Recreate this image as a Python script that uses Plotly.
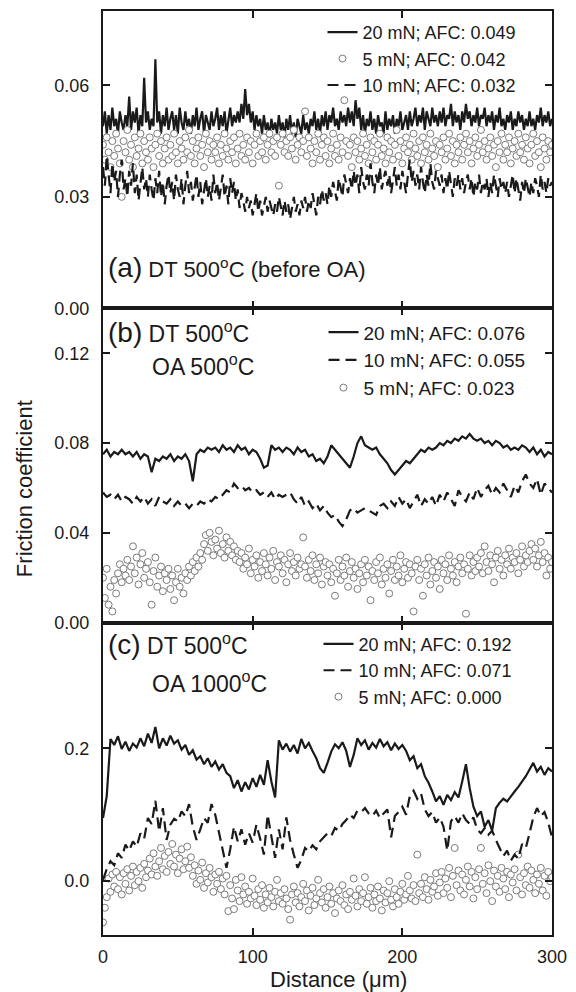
import plotly.graph_objects as go

# Friction coefficient traces recorded along a 300 µm scratch track.
FINE_STEP = 1.25      # µm between samples of the dense traces
LINE_STEP = 2.5       # µm between samples of the panel (b)/(c) lines

# ---- (a) DT 500 °C, before OA ----
a_20mN = [
    0.049, 0.053, 0.047, 0.052, 0.048, 0.054, 0.049, 0.051, 0.047, 0.053, 0.050, 0.048,
    0.052, 0.049, 0.057, 0.048, 0.053, 0.050, 0.054, 0.047, 0.052, 0.049, 0.062, 0.050,
    0.053, 0.048, 0.051, 0.049, 0.067, 0.050, 0.053, 0.047, 0.052, 0.049, 0.054, 0.048,
    0.051, 0.053, 0.048, 0.052, 0.047, 0.054, 0.050, 0.048, 0.053, 0.049, 0.051, 0.047,
    0.052, 0.049, 0.054, 0.048, 0.051, 0.053, 0.047, 0.052, 0.050, 0.048, 0.053, 0.049,
    0.051, 0.054, 0.048, 0.052, 0.049, 0.053, 0.047, 0.051, 0.054, 0.049, 0.052, 0.050,
    0.053, 0.050, 0.055, 0.051, 0.059, 0.052, 0.055, 0.050, 0.053, 0.048, 0.052, 0.049,
    0.051, 0.047, 0.052, 0.048, 0.050, 0.046, 0.051, 0.048, 0.050, 0.047, 0.052, 0.048,
    0.050, 0.046, 0.051, 0.048, 0.052, 0.047, 0.050, 0.046, 0.051, 0.049, 0.047, 0.052,
    0.048, 0.050, 0.047, 0.051, 0.049, 0.053, 0.048, 0.051, 0.047, 0.052, 0.049, 0.053,
    0.048, 0.052, 0.050, 0.054, 0.049, 0.051, 0.048, 0.053, 0.050, 0.052, 0.049, 0.054,
    0.050, 0.053, 0.049, 0.056, 0.051, 0.054, 0.048, 0.052, 0.047, 0.051, 0.049, 0.053,
    0.048, 0.051, 0.047, 0.052, 0.049, 0.050, 0.047, 0.053, 0.048, 0.051, 0.049, 0.052,
    0.047, 0.051, 0.049, 0.053, 0.048, 0.050, 0.052, 0.048, 0.053, 0.049, 0.051, 0.054,
    0.049, 0.052, 0.050, 0.054, 0.048, 0.053, 0.051, 0.049, 0.054, 0.050, 0.052, 0.049,
    0.053, 0.050, 0.054, 0.049, 0.052, 0.051, 0.055, 0.049, 0.053, 0.050, 0.052, 0.048,
    0.053, 0.050, 0.055, 0.051, 0.053, 0.049, 0.052, 0.050, 0.054, 0.049, 0.052, 0.051,
    0.054, 0.049, 0.052, 0.050, 0.053, 0.048, 0.052, 0.050, 0.054, 0.049, 0.051, 0.048,
    0.052, 0.050, 0.053, 0.048, 0.051, 0.049, 0.053, 0.050, 0.052, 0.048, 0.051, 0.049,
    0.053, 0.049, 0.051, 0.048, 0.052, 0.050, 0.054, 0.049, 0.052, 0.050, 0.053, 0.049,
    0.051,
]
a_10mN = [
    0.038, 0.033, 0.041, 0.035, 0.031, 0.039, 0.034, 0.037, 0.030, 0.036, 0.040, 0.032,
    0.035, 0.030, 0.037, 0.033, 0.039, 0.031, 0.036, 0.029, 0.034, 0.038, 0.032, 0.035,
    0.030, 0.036, 0.032, 0.029, 0.035, 0.031, 0.037, 0.030, 0.034, 0.028, 0.033, 0.036,
    0.031, 0.034, 0.029, 0.036, 0.032, 0.030, 0.035, 0.028, 0.033, 0.037, 0.031, 0.034,
    0.029, 0.033, 0.036, 0.030, 0.034, 0.028, 0.032, 0.035, 0.030, 0.033, 0.029, 0.036,
    0.031, 0.034, 0.029, 0.032, 0.036, 0.030, 0.033, 0.028, 0.035, 0.031, 0.034, 0.029,
    0.032, 0.027, 0.031, 0.029, 0.026, 0.030, 0.027, 0.029, 0.025, 0.028, 0.031, 0.026,
    0.029, 0.025, 0.028, 0.030, 0.026, 0.029, 0.027, 0.025, 0.028, 0.026, 0.030, 0.027,
    0.025, 0.029, 0.026, 0.028, 0.024, 0.027, 0.030, 0.026, 0.028, 0.025, 0.029, 0.027,
    0.030, 0.026, 0.029, 0.027, 0.031, 0.028, 0.025, 0.030, 0.028, 0.032, 0.029, 0.031,
    0.028, 0.033, 0.030, 0.034, 0.031, 0.029, 0.035, 0.032, 0.030, 0.036, 0.033, 0.031,
    0.035, 0.032, 0.037, 0.033, 0.036, 0.031, 0.038, 0.034, 0.032, 0.036, 0.033, 0.039,
    0.034, 0.031, 0.036, 0.033, 0.038, 0.032, 0.035, 0.037, 0.033, 0.036, 0.031, 0.035,
    0.038, 0.033, 0.036, 0.032, 0.037, 0.034, 0.031, 0.036, 0.040, 0.034, 0.037, 0.033,
    0.036, 0.032, 0.038, 0.034, 0.031, 0.036, 0.033, 0.039, 0.034, 0.032, 0.037, 0.035,
    0.033, 0.036, 0.031, 0.035, 0.032, 0.037, 0.034, 0.030, 0.035, 0.033, 0.036, 0.032,
    0.035, 0.031, 0.034, 0.036, 0.032, 0.035, 0.030, 0.034, 0.032, 0.036, 0.031, 0.034,
    0.032, 0.035, 0.030, 0.034, 0.031, 0.036, 0.033, 0.030, 0.035, 0.032, 0.034, 0.031,
    0.034, 0.030, 0.033, 0.036, 0.031, 0.035, 0.032, 0.029, 0.034, 0.031, 0.035, 0.032,
    0.030, 0.034, 0.031, 0.035, 0.033, 0.030, 0.036, 0.032, 0.034, 0.031, 0.035, 0.033,
    0.034,
]
a_5mN = [
    0.044, 0.040, 0.046, 0.042, 0.038, 0.045, 0.041, 0.047, 0.043, 0.039, 0.030, 0.045,
    0.042, 0.048, 0.040, 0.044, 0.038, 0.046, 0.041, 0.043, 0.047, 0.039, 0.045, 0.042,
    0.040, 0.046, 0.043, 0.038, 0.044, 0.047, 0.041, 0.045, 0.039, 0.043, 0.046, 0.040,
    0.044, 0.041, 0.047, 0.042, 0.039, 0.045, 0.043, 0.040, 0.046, 0.042, 0.048, 0.041,
    0.045, 0.039, 0.043, 0.046, 0.041, 0.044, 0.038, 0.047, 0.042, 0.045, 0.040, 0.044,
    0.042, 0.046, 0.039, 0.044, 0.041, 0.047, 0.043, 0.040, 0.045, 0.042, 0.046, 0.039,
    0.043, 0.047, 0.041, 0.044, 0.040, 0.046, 0.042, 0.045, 0.039, 0.044, 0.047, 0.041,
    0.045, 0.042, 0.046, 0.040, 0.044, 0.047, 0.042, 0.045, 0.041, 0.046, 0.033, 0.044,
    0.047, 0.042, 0.045, 0.041, 0.046, 0.043, 0.048, 0.040, 0.044, 0.046, 0.042, 0.045,
    0.053, 0.041, 0.046, 0.043, 0.039, 0.045, 0.042, 0.047, 0.040, 0.044, 0.046, 0.041,
    0.045, 0.039, 0.043, 0.047, 0.041, 0.044, 0.040, 0.046, 0.042, 0.056, 0.045, 0.041,
    0.044, 0.038, 0.046, 0.042, 0.045, 0.040, 0.043, 0.047, 0.041, 0.044, 0.039, 0.046,
    0.042, 0.045, 0.040, 0.044, 0.047, 0.041, 0.043, 0.039, 0.046, 0.042, 0.045, 0.040,
    0.044, 0.048, 0.041, 0.045, 0.039, 0.043, 0.046, 0.042, 0.044, 0.040, 0.047, 0.043,
    0.041, 0.045, 0.039, 0.046, 0.042, 0.044, 0.040, 0.047, 0.043, 0.041, 0.045, 0.038,
    0.044, 0.042, 0.046, 0.040, 0.043, 0.047, 0.041, 0.045, 0.039, 0.044, 0.042, 0.046,
    0.040, 0.044, 0.047, 0.042, 0.045, 0.039, 0.043, 0.046, 0.041, 0.044, 0.048, 0.042,
    0.045, 0.040, 0.043, 0.046, 0.041, 0.044, 0.038, 0.045, 0.042, 0.047, 0.040, 0.044,
    0.042, 0.046, 0.039, 0.043, 0.045, 0.041, 0.047, 0.042, 0.044, 0.040, 0.046, 0.043,
    0.039, 0.044, 0.047, 0.041, 0.045, 0.042, 0.038, 0.046, 0.043, 0.040, 0.045, 0.042,
    0.044,
]

# ---- (b) DT 500 °C, OA 500 °C ----
b_20mN = [
    0.075, 0.077, 0.074, 0.076, 0.075, 0.077, 0.075, 0.076, 0.074, 0.076,
    0.073, 0.075, 0.074, 0.067, 0.073, 0.072, 0.074, 0.073, 0.075, 0.072,
    0.074, 0.073, 0.075, 0.072, 0.063, 0.075, 0.077, 0.076, 0.078, 0.077,
    0.078, 0.076, 0.079, 0.077, 0.078, 0.076, 0.079, 0.077, 0.078, 0.075,
    0.077, 0.076, 0.073, 0.069, 0.070, 0.079, 0.077, 0.078, 0.076, 0.078,
    0.077, 0.075, 0.078, 0.076, 0.077, 0.074, 0.075, 0.072, 0.073, 0.071,
    0.074, 0.079, 0.077, 0.075, 0.073, 0.071, 0.069, 0.074, 0.080, 0.083,
    0.079, 0.078, 0.077, 0.078, 0.075, 0.073, 0.071, 0.068, 0.066, 0.068,
    0.070, 0.072, 0.071, 0.073, 0.075, 0.077, 0.076, 0.078, 0.077, 0.078,
    0.080, 0.079, 0.081, 0.080, 0.082, 0.081, 0.083, 0.082, 0.084, 0.082,
    0.081, 0.082, 0.080, 0.081, 0.079, 0.081, 0.080, 0.078, 0.079, 0.077,
    0.078, 0.077, 0.079, 0.078, 0.076, 0.078, 0.075, 0.077, 0.074, 0.076, 0.075,
]
b_10mN = [
    0.058, 0.056, 0.057, 0.055, 0.057, 0.054, 0.056, 0.055, 0.053, 0.056,
    0.054, 0.056, 0.053, 0.055, 0.052, 0.056, 0.054, 0.053, 0.055, 0.052,
    0.054, 0.052, 0.053, 0.051, 0.053, 0.052, 0.054, 0.053, 0.055, 0.054,
    0.056, 0.055, 0.057, 0.059, 0.058, 0.062, 0.060, 0.061, 0.059, 0.060,
    0.058, 0.059, 0.057, 0.058, 0.056, 0.058, 0.055, 0.057, 0.056, 0.057,
    0.058, 0.055, 0.053, 0.056, 0.052, 0.054, 0.051, 0.053, 0.050, 0.052,
    0.049, 0.047, 0.048, 0.045, 0.043, 0.046, 0.050, 0.051, 0.049, 0.050,
    0.051, 0.050, 0.049, 0.048, 0.052, 0.053, 0.051, 0.054, 0.052, 0.056,
    0.053, 0.055, 0.051, 0.054, 0.057, 0.052, 0.055, 0.053, 0.056, 0.052,
    0.057, 0.054, 0.058, 0.055, 0.052, 0.059, 0.056, 0.054, 0.058, 0.055,
    0.060, 0.056, 0.059, 0.061, 0.057, 0.060, 0.058, 0.062, 0.059, 0.056,
    0.061, 0.058, 0.063, 0.066, 0.062, 0.060, 0.064, 0.057, 0.062, 0.060, 0.058,
]
b_5mN = [
    0.020, 0.011, 0.024, 0.008, 0.016, 0.005, 0.019, 0.013, 0.022, 0.026, 0.018, 0.024,
    0.021, 0.028, 0.019, 0.025, 0.034, 0.022, 0.029, 0.017, 0.026, 0.031, 0.020, 0.024,
    0.027, 0.018, 0.008, 0.023, 0.029, 0.016, 0.021, 0.025, 0.014, 0.022, 0.019, 0.024,
    0.015, 0.021, 0.010, 0.018, 0.024, 0.016, 0.020, 0.013, 0.022, 0.019, 0.025, 0.021,
    0.027, 0.023, 0.029, 0.025, 0.031, 0.028, 0.035, 0.039, 0.032, 0.040, 0.036, 0.030,
    0.037, 0.033, 0.041, 0.031, 0.035, 0.029, 0.038, 0.032, 0.036, 0.030, 0.034, 0.028,
    0.032, 0.027, 0.031, 0.024, 0.029, 0.026, 0.033, 0.022, 0.028, 0.025, 0.030, 0.020,
    0.027, 0.023, 0.031, 0.026, 0.021, 0.029, 0.024, 0.032, 0.019, 0.027, 0.025, 0.030,
    0.022, 0.028, 0.018, 0.026, 0.031, 0.023, 0.027, 0.021, 0.029, 0.024, 0.026, 0.038,
    0.025, 0.020, 0.028, 0.023, 0.030, 0.019, 0.026, 0.022, 0.029, 0.017, 0.025, 0.027,
    0.021, 0.026, 0.018, 0.024, 0.012, 0.022, 0.028, 0.019, 0.025, 0.021, 0.029, 0.016,
    0.023, 0.027, 0.020, 0.024, 0.015, 0.022, 0.026, 0.018, 0.028, 0.021, 0.025, 0.010,
    0.023, 0.019, 0.027, 0.022, 0.029, 0.017, 0.024, 0.020, 0.026, 0.013, 0.023, 0.028,
    0.019, 0.025, 0.021, 0.030, 0.018, 0.024, 0.027, 0.020, 0.026, 0.022, 0.005, 0.025,
    0.028, 0.019, 0.024, 0.012, 0.026, 0.021, 0.029, 0.017, 0.023, 0.027, 0.020, 0.025,
    0.015, 0.028, 0.022, 0.026, 0.019, 0.030, 0.024, 0.021, 0.027, 0.018, 0.025, 0.029,
    0.022, 0.026, 0.004, 0.024, 0.030, 0.021, 0.027, 0.023, 0.029, 0.025, 0.031, 0.022,
    0.034, 0.027, 0.023, 0.030, 0.026, 0.018, 0.029, 0.032, 0.024, 0.028, 0.021, 0.030,
    0.026, 0.033, 0.024, 0.029, 0.027, 0.031, 0.022, 0.028, 0.034, 0.025, 0.030, 0.027,
    0.032, 0.035, 0.028, 0.033, 0.025, 0.030, 0.036, 0.027, 0.031, 0.021, 0.029, 0.024,
    0.027,
]

# ---- (c) DT 500 °C, OA 1000 °C ----
c_20mN = [
    0.095, 0.128, 0.214, 0.205, 0.218, 0.199, 0.210, 0.196, 0.207, 0.201,
    0.215, 0.203, 0.222, 0.208, 0.232, 0.200, 0.215, 0.204, 0.219, 0.207,
    0.212, 0.198, 0.205, 0.190, 0.197, 0.183, 0.188, 0.176, 0.185, 0.172,
    0.180, 0.168, 0.176, 0.163, 0.158, 0.140, 0.152, 0.135, 0.149, 0.138,
    0.155, 0.142, 0.160, 0.145, 0.182, 0.150, 0.126, 0.212, 0.198, 0.207,
    0.195, 0.205, 0.192, 0.214, 0.200, 0.208, 0.196, 0.185, 0.170, 0.163,
    0.178, 0.195, 0.206, 0.200, 0.209, 0.196, 0.172, 0.190, 0.215, 0.205,
    0.212, 0.198, 0.208, 0.201, 0.214, 0.203, 0.209, 0.197, 0.207, 0.199,
    0.205, 0.196, 0.182, 0.188, 0.170, 0.176, 0.158, 0.148, 0.135, 0.120,
    0.128, 0.115, 0.130, 0.122, 0.134, 0.126, 0.150, 0.176, 0.140, 0.112,
    0.098, 0.105, 0.082, 0.092, 0.076, 0.110, 0.118, 0.124, 0.120, 0.128,
    0.135, 0.142, 0.150, 0.158, 0.168, 0.178, 0.165, 0.172, 0.160, 0.170, 0.165,
]
c_10mN = [
    0.002, 0.018, 0.030, 0.024, 0.042, 0.035, 0.055, 0.046, 0.060, 0.052,
    0.072, 0.064, 0.095, 0.086, 0.121, 0.075, 0.110, 0.062, 0.085, 0.094,
    0.090, 0.105, 0.098, 0.116, 0.082, 0.062, 0.078, 0.095, 0.088, 0.116,
    0.100, 0.072, 0.046, 0.020, 0.048, 0.082, 0.060, 0.078, 0.055, 0.072,
    0.058, 0.085, 0.064, 0.040, 0.100, 0.070, 0.035, 0.078, 0.048, 0.096,
    0.062, 0.040, 0.020, 0.032, 0.050, 0.045, 0.054, 0.048, 0.060, 0.066,
    0.072, 0.068, 0.080, 0.076, 0.086, 0.092, 0.100, 0.095, 0.106, 0.104,
    0.110, 0.102, 0.098, 0.106, 0.095, 0.102, 0.108, 0.066, 0.098, 0.104,
    0.112, 0.100, 0.128, 0.136, 0.124, 0.132, 0.108, 0.098, 0.104, 0.088,
    0.096, 0.082, 0.046, 0.090, 0.098, 0.088, 0.102, 0.092, 0.086, 0.096,
    0.078, 0.072, 0.080, 0.070, 0.076, 0.062, 0.050, 0.038, 0.046, 0.031,
    0.040, 0.034, 0.056, 0.050, 0.072, 0.096, 0.110, 0.098, 0.104, 0.088, 0.066,
]
c_5mN = [
    -0.062, -0.040, -0.024, 0.004, -0.016, 0.010, -0.008, 0.014, -0.012, 0.006, -0.020, 0.012,
    -0.004, 0.018, -0.014, 0.008, 0.022, -0.006, 0.014, 0.000, 0.020, -0.010, 0.026, 0.006,
    0.016, 0.034, 0.010, 0.042, 0.022, 0.008, 0.030, 0.050, 0.018, 0.038, 0.014, 0.044,
    0.026, 0.056, 0.022, 0.040, 0.012, 0.034, 0.048, 0.018, 0.030, 0.052, 0.020, 0.036,
    0.008, 0.024, -0.004, 0.016, 0.002, 0.028, -0.010, 0.012, -0.002, 0.020, 0.006, -0.016,
    0.010, -0.004, 0.014, -0.012, 0.004, -0.020, 0.008, -0.045, -0.006, -0.026, -0.042, 0.002,
    -0.014, -0.030, 0.006, -0.020, -0.008, -0.034, -0.016, -0.026, 0.004, -0.022, -0.036, -0.012,
    -0.028, -0.006, -0.040, -0.020, -0.032, -0.010, -0.024, -0.038, -0.016, 0.002, -0.030, -0.018,
    -0.034, -0.012, -0.026, -0.042, -0.058, -0.020, -0.008, -0.032, -0.018, -0.038, -0.024, -0.004,
    -0.030, -0.014, -0.044, -0.022, -0.010, -0.036, -0.026, 0.002, -0.018, -0.032, -0.012, -0.040,
    -0.024, -0.008, -0.034, -0.018, -0.048, -0.026, -0.014, -0.030, -0.006, -0.036, -0.020, -0.042,
    -0.016, -0.028, 0.004, -0.022, -0.038, -0.012, -0.030, -0.018, 0.006, -0.034, -0.024, -0.010,
    -0.040, -0.020, -0.030, -0.008, -0.026, -0.044, -0.014, -0.032, -0.018, 0.000, -0.028, -0.038,
    -0.012, -0.024, -0.034, -0.016, -0.004, -0.028, -0.020, 0.008, -0.014, -0.026, -0.006, -0.030,
    0.040, -0.018, -0.004, -0.024, 0.006, -0.012, -0.028, 0.002, -0.016, -0.008, 0.012, -0.022,
    -0.002, 0.014, -0.018, 0.004, -0.010, 0.020, -0.024, 0.008, 0.050, -0.006, 0.016, -0.014,
    0.010, -0.020, 0.002, 0.022, -0.008, 0.014, -0.026, 0.006, -0.012, 0.018, 0.050, -0.004,
    0.012, -0.018, 0.024, 0.000, -0.030, 0.016, -0.008, 0.008, -0.016, 0.020, 0.004, -0.012,
    0.014, -0.024, 0.010, -0.002, 0.018, -0.014, 0.040, 0.006, -0.020, 0.012, -0.006, 0.022,
    -0.010, 0.016, 0.002, -0.018, 0.010, -0.004, 0.020, -0.014, 0.008, -0.022, 0.014, 0.000,
    0.006,
]

AFC = {
    "a": {"20": "0.049", "5": "0.042", "10": "0.032"},
    "b": {"20": "0.076", "10": "0.055", "5": "0.023"},
    "c": {"20": "0.192", "10": "0.071", "5": "0.000"},
}

FONT = "Liberation Sans, Arial, Helvetica, sans-serif"
INK = "#1a1a1a"
DOT_EDGE = "#7a7a7a"

# pixel layout of the three stacked panels
W, H = 576, 992
L, R, T, B = 103, 23, 9, 57
PLOT_H = H - T - B
PANEL_BOTTOMS = {"a": 307, "b": 622, "c": 935}
PANEL_TOPS = {"a": 9, "b": 307, "c": 622}


def px_x(p):
    return (p - L) / (W - L - R)


def px_y(p):
    return (H - B - p) / PLOT_H


def dist(values, step):
    return [i * step for i in range(len(values))]


fig = go.Figure()


def solid(vals, step, name, panel, legend, rank):
    fig.add_trace(go.Scatter(
        x=dist(vals, step), y=vals, mode="lines", name=name,
        line=dict(color=INK, width=2.2), xaxis=panel[0], yaxis=panel[1],
        legend=legend, legendgroup=legend + name, legendrank=rank))


def dashed(vals, step, name, panel, legend, rank):
    fig.add_trace(go.Scatter(
        x=dist(vals, step), y=vals, mode="lines", name=name,
        line=dict(color=INK, width=2.2, dash="11px,6px"),
        xaxis=panel[0], yaxis=panel[1],
        legend=legend, legendgroup=legend + name, legendrank=rank))


def dots(vals, step, name, panel, legend, rank):
    fig.add_trace(go.Scatter(
        x=dist(vals, step), y=vals, mode="markers", name=name,
        marker=dict(symbol="circle", size=7, color="white",
                    line=dict(color=DOT_EDGE, width=1)),
        xaxis=panel[0], yaxis=panel[1],
        legend=legend, legendgroup=legend + name, legendrank=rank))


pa, pb, pc = ("x", "y"), ("x2", "y2"), ("x3", "y3")

solid(a_20mN, FINE_STEP, f"20 mN; AFC: {AFC['a']['20']}", pa, "legend", 1)
dots(a_5mN, FINE_STEP, f"5 mN; AFC: {AFC['a']['5']}", pa, "legend", 2)
dashed(a_10mN, FINE_STEP, f"10 mN; AFC: {AFC['a']['10']}", pa, "legend", 3)

dots(b_5mN, FINE_STEP, f"5 mN; AFC: {AFC['b']['5']}", pb, "legend2", 3)
solid(b_20mN, LINE_STEP, f"20 mN; AFC: {AFC['b']['20']}", pb, "legend2", 1)
dashed(b_10mN, LINE_STEP, f"10 mN; AFC: {AFC['b']['10']}", pb, "legend2", 2)

dots(c_5mN, FINE_STEP, f"5 mN; AFC: {AFC['c']['5']}", pc, "legend3", 3)
solid(c_20mN, LINE_STEP, f"20 mN; AFC: {AFC['c']['20']}", pc, "legend3", 1)
dashed(c_10mN, LINE_STEP, f"10 mN; AFC: {AFC['c']['10']}", pc, "legend3", 2)

axis_common = dict(
    showline=True, linewidth=2, linecolor=INK, mirror="ticks",
    ticks="inside", ticklen=7, tickwidth=1.5, tickcolor=INK,
    showgrid=False, zeroline=False,
    tickfont=dict(family=FONT, size=18, color=INK),
)

x_common = dict(axis_common, range=[0, 300], tick0=0, dtick=100,
                domain=[0, 1])

y_specs = {
    "a": dict(range=[0, 0.08], dtick=0.03, tickformat=".2f"),
    "b": dict(range=[0, 0.14], dtick=0.04, tickformat=".2f"),
    "c": dict(range=[-0.081, 0.389], dtick=0.2, tickformat=".1f"),
}


def dom(k):
    return [px_y(PANEL_BOTTOMS[k]), px_y(PANEL_TOPS[k])]


fig.update_layout(
    xaxis=dict(x_common, anchor="y", showticklabels=False),
    xaxis2=dict(x_common, anchor="y2", showticklabels=False),
    xaxis3=dict(x_common, anchor="y3", showticklabels=True,
                ticklabelstandoff=4),
    yaxis=dict(axis_common, **y_specs["a"], tick0=0, domain=dom("a"),
               anchor="x", ticklabelstandoff=8),
    yaxis2=dict(axis_common, **y_specs["b"], tick0=0, domain=dom("b"),
                anchor="x2", ticklabelstandoff=8),
    yaxis3=dict(axis_common, **y_specs["c"], tick0=0, domain=dom("c"),
                anchor="x3", ticklabelstandoff=8),
)


def legend_box(left_px, top_px, gap, size):
    return dict(
        x=px_x(left_px), xanchor="left", y=px_y(top_px), yanchor="top",
        bgcolor="rgba(0,0,0,0)", borderwidth=0, tracegroupgap=gap,
        font=dict(family=FONT, size=size, color=INK),
        traceorder="normal",
    )


fig.update_layout(
    legend=legend_box(323, 12, 0, 18),
    legend2=legend_box(324, 312, 5, 19),
    legend3=legend_box(319, 625, 0, 18),
)

label_font = dict(family=FONT, size=23, color=INK)
big = "font-size:28px"
annotations = [
    dict(text=f"<span style='{big}'>(a)</span> DT 500<sup>o</sup>C (before OA)",
         x=px_x(106), y=px_y(266), font=dict(family=FONT, size=22, color=INK)),
    dict(text=f"<span style='{big}'>(b)</span> DT 500<sup>o</sup>C",
         x=px_x(106), y=px_y(331), font=label_font),
    dict(text="OA 500<sup>o</sup>C", x=px_x(150), y=px_y(364), font=label_font),
    dict(text=f"<span style='{big}'>(c)</span> DT 500<sup>o</sup>C",
         x=px_x(106), y=px_y(644), font=label_font),
    dict(text="OA 1000<sup>o</sup>C", x=px_x(150), y=px_y(681), font=label_font),
]
for ann in annotations:
    ann.update(xref="paper", yref="paper", xanchor="left", yanchor="middle",
               showarrow=False)

annotations.append(dict(
    text="Friction coefficient", textangle=-90, x=px_x(25), y=px_y(488),
    xref="paper", yref="paper", xanchor="center", yanchor="middle",
    showarrow=False, font=dict(family=FONT, size=22, color=INK)))
annotations.append(dict(
    text="Distance (μm)", x=px_x(339), y=px_y(980),
    xref="paper", yref="paper", xanchor="center", yanchor="middle",
    showarrow=False, font=dict(family=FONT, size=22, color=INK)))

fig.update_layout(
    width=W, height=H,
    margin=dict(l=L, r=R, t=T, b=B),
    paper_bgcolor="white", plot_bgcolor="white",
    font=dict(family=FONT, color=INK),
    annotations=annotations,
    showlegend=True,
)

fig.write_html("out.html", include_plotlyjs=True, full_html=True,
               config={"displayModeBar": False})
